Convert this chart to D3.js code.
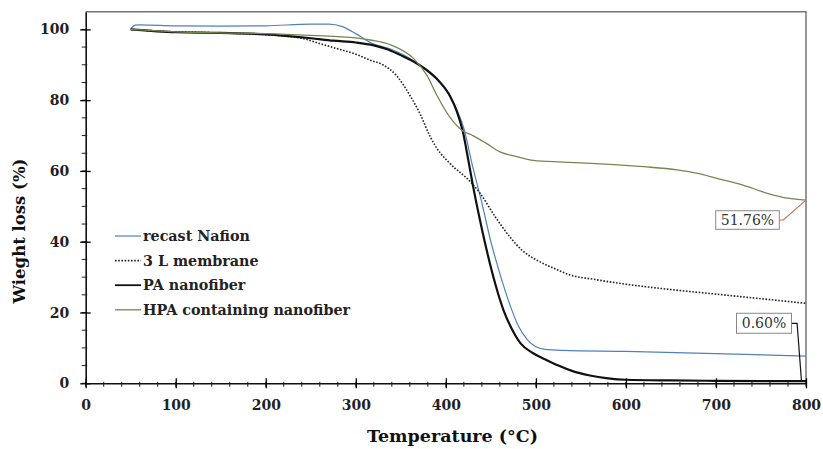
<!DOCTYPE html>
<html>
<head>
<meta charset="utf-8">
<script src="https://cdn.jsdelivr.net/npm/d3@7"></script>
<style>
  body { margin: 0; background: #fff; }
  svg { display: block; }
</style>
</head>
<body>
<div id="chart"></div>
<script>
const svgWidth = 823;
const svgHeight = 449;

// TGA curves (temperature in °C, weight in %)
const nafionTemp = [50, 55, 60, 100, 150, 200, 250, 270, 285, 300, 316, 340, 360, 380, 400, 410, 420, 430, 440, 450, 460, 470, 480, 490, 500, 510, 530, 600, 700, 800];
const nafionWeight = [100.2, 101.2, 101.3, 101.0, 100.9, 101.0, 101.5, 101.5, 100.8, 98.8, 96.3, 94.3, 91.8, 88.0, 83.0, 78.5, 72.0, 61.0, 51.0, 40.0, 31.0, 23.0, 16.5, 12.5, 10.3, 9.6, 9.3, 9.0, 8.4, 7.7];

const membraneTemp = [50, 100, 150, 200, 240, 260, 280, 300, 316, 330, 345, 360, 372, 382, 390, 405, 427, 438, 455, 471, 485, 501, 520, 538, 564, 600, 653, 700, 727, 800];
const membraneWeight = [100, 99.3, 99.0, 98.5, 97.5, 96.0, 94.5, 93.0, 91.3, 90.0, 87.0, 81.4, 75.8, 70.0, 66.4, 62.0, 57.0, 53.7, 47.0, 41.4, 37.5, 34.8, 32.5, 30.6, 29.4, 28.0, 26.4, 25.2, 24.5, 22.6];

const paTemp = [50, 100, 150, 200, 250, 275, 300, 320, 335, 349, 365, 379, 392, 405, 412, 419, 425, 430, 438, 445, 455, 464, 473, 483, 497, 510, 525, 540, 560, 580, 600, 650, 700, 800];
const paWeight = [100, 99.2, 99.0, 98.6, 97.5, 96.8, 96.3, 95.5, 94.4, 92.8, 90.8, 88.5, 85.5, 81.0, 77.0, 71.0, 63.0, 56.0, 46.0, 38.0, 28.0, 20.7, 15.5, 11.3, 8.5, 6.8, 5.0, 3.5, 2.2, 1.4, 1.0, 0.8, 0.7, 0.6];

const hpaTemp = [50, 100, 150, 200, 250, 300, 316, 340, 364, 379, 390, 405, 419, 430, 445, 460, 480, 497, 530, 572, 620, 657, 680, 701, 730, 757, 780, 800];
const hpaWeight = [100, 99.3, 99.0, 98.8, 98.3, 97.6, 97.0, 95.5, 91.8, 87.0, 81.4, 75.0, 71.3, 70.0, 67.8, 65.4, 64.0, 63.0, 62.5, 62.0, 61.2, 60.3, 59.3, 57.9, 56.0, 53.7, 52.3, 51.76];

const seriesNames = ['recast Nafion', '3 L membrane', 'PA nanofiber', 'HPA containing nanofiber'];
const xTicks = [0, 100, 200, 300, 400, 500, 600, 700, 800];
const yTicks = [0, 20, 40, 60, 80, 100];
const annotations = [
    { label: '51.76%', t: 800, w: 51.76 },
    { label: '0.60%', t: 795, w: 0.6 }
];

const series = [
    { name: seriesNames[0], temp: nafionTemp, weight: nafionWeight, color: '#4f81bd', width: 1.2, dash: null },
    { name: seriesNames[1], temp: membraneTemp, weight: membraneWeight, color: '#222', width: 1.6, dash: '1.6,1.6' },
    { name: seriesNames[2], temp: paTemp, weight: paWeight, color: '#111', width: 2.2, dash: null },
    { name: seriesNames[3], temp: hpaTemp, weight: hpaWeight, color: '#76864f', width: 1.3, dash: null }
];

const margin = { top: 11.7, right: 17, bottom: 65.7, left: 85.7 };
const plotW = svgWidth - margin.left - margin.right;
const plotH = svgHeight - margin.top - margin.bottom;

const x = d3.scaleLinear().domain([0, 800]).range([0, plotW]);
const y = d3.scaleLinear().domain([0, 105]).range([plotH, 0]);

const svg = d3.select('#chart')
    .append('svg')
    .attr('width', svgWidth)
    .attr('height', svgHeight);

const g = svg.append('g').attr('transform', `translate(${margin.left},${margin.top})`);

const serif = '"DejaVu Serif", "Liberation Serif", serif';

// frame (top + right)
g.append('path')
    .attr('d', `M0,0H${plotW}V${plotH}`)
    .attr('fill', 'none')
    .attr('stroke', '#777')
    .attr('stroke-width', 1.5);

// minor ticks
g.selectAll('.ytick-minor')
    .data(d3.range(0, 101, 5))
    .enter()
    .append('line')
    .attr('x1', -4).attr('x2', 1.5)
    .attr('y1', d => y(d)).attr('y2', d => y(d))
    .attr('stroke', '#222').attr('stroke-width', 1);

g.selectAll('.xtick-minor')
    .data(d3.range(0, 801, 20))
    .enter()
    .append('line')
    .attr('x1', d => x(d)).attr('x2', d => x(d))
    .attr('y1', -1.5).attr('y2', 3.5)
    .attr('transform', `translate(0,${plotH})`)
    .attr('stroke', '#222').attr('stroke-width', 1);

// axes
const yAxis = g.append('g')
    .call(d3.axisLeft(y).tickValues(yTicks).tickSize(5.5).tickSizeOuter(0).tickPadding(11));
yAxis.selectAll('.tick line').attr('x2', 5).attr('x1', -5.5).attr('stroke-width', 1.3);

const xAxis = g.append('g')
    .attr('transform', `translate(0,${plotH})`)
    .call(d3.axisBottom(x).tickValues(xTicks).tickSize(5).tickSizeOuter(0).tickPadding(12));
xAxis.selectAll('.tick line').attr('y1', -5).attr('y2', 5).attr('stroke-width', 1.3);

[yAxis, xAxis].forEach(ax => {
    ax.select('.domain').attr('stroke', '#111').attr('stroke-width', 1.6);
    ax.selectAll('text')
        .attr('font-family', serif)
        .attr('font-weight', 'bold')
        .attr('font-size', 14)
        .attr('fill', '#222');
});

// curves
const lineGenerator = d3.line()
    .x(d => x(d[0]))
    .y(d => y(d[1]))
    .curve(d3.curveMonotoneX);

g.selectAll('.curve')
    .data(series)
    .enter()
    .append('path')
    .attr('class', 'curve')
    .attr('d', s => lineGenerator(s.temp.map((t, i) => [t, s.weight[i]])))
    .attr('fill', 'none')
    .attr('stroke', s => s.color)
    .attr('stroke-width', s => s.width)
    .attr('stroke-dasharray', s => s.dash);

// legend
const legend = g.append('g').attr('transform', `translate(${115 - margin.left},${236 - margin.top})`);
const rows = legend.selectAll('g')
    .data(series)
    .enter()
    .append('g')
    .attr('transform', (d, i) => `translate(0,${i * 24.6})`);
rows.append('line')
    .attr('x1', 0).attr('x2', 26)
    .attr('stroke', s => s.color)
    .attr('stroke-width', s => Math.min(s.width, 1.8))
    .attr('stroke-dasharray', s => s.dash);
rows.append('text')
    .attr('x', 28)
    .attr('dy', '0.35em')
    .attr('font-family', serif)
    .attr('font-weight', 'bold')
    .attr('font-size', 14.3)
    .attr('fill', '#222')
    .text(s => s.name);

// value callouts at the end of the curves
const boxes = [
    { dx: -90.3, dy: 10.6, w: 63.6, h: 18.6, stroke: '#c0735a', path: (ex, ey) => `M${ex - 26.7},${ey + 19.9}h4L${ex},${ey}` },
    { dx: -65, dy: -67.9, w: 55, h: 20, stroke: '#111', path: (ex, ey) => `M${ex - 10},${ey - 57.9}h5.6L${ex},${ey}` }
];
annotations.forEach((a, i) => {
    const ex = x(a.t), ey = y(a.w);
    const b = boxes[i];
    g.append('path')
        .attr('d', b.path(ex, ey))
        .attr('fill', 'none')
        .attr('stroke', b.stroke)
        .attr('stroke-width', 1.2);
    g.append('rect')
        .attr('x', ex + b.dx).attr('y', ey + b.dy)
        .attr('width', b.w).attr('height', b.h)
        .attr('fill', '#fff')
        .attr('stroke', '#888')
        .attr('stroke-width', 1);
    g.append('text')
        .attr('x', ex + b.dx + b.w / 2)
        .attr('y', ey + b.dy + b.h / 2)
        .attr('dy', '0.36em')
        .attr('text-anchor', 'middle')
        .attr('font-family', serif)
        .attr('font-size', 14)
        .attr('fill', '#333')
        .text(a.label);
});

// axis titles
svg.append('text')
    .attr('x', 452.5)
    .attr('y', 442)
    .attr('text-anchor', 'middle')
    .attr('font-family', serif)
    .attr('font-weight', 'bold')
    .attr('font-size', 17.5)
    .attr('fill', '#111')
    .text('Temperature (°C)');

svg.append('text')
    .attr('transform', `translate(25,${231}) rotate(-90)`)
    .attr('text-anchor', 'middle')
    .attr('font-family', serif)
    .attr('font-weight', 'bold')
    .attr('font-size', 16.5)
    .attr('fill', '#111')
    .text('Wieght loss (%)');
</script>
</body>
</html>
